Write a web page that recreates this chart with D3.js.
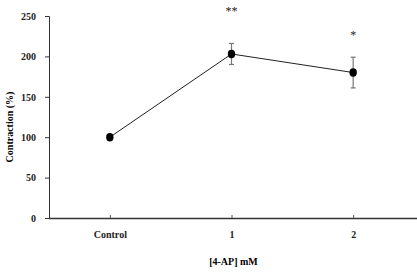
<!DOCTYPE html>
<html lang="en">
<head>
    <meta charset="UTF-8">
    <script src="https://cdn.jsdelivr.net/npm/d3@7"></script>
    <style>
        * { margin: 0; padding: 0; box-sizing: border-box; }
        body { background: white; }
        svg text { font-family: "Liberation Serif", "Times New Roman", serif; }
    </style>
</head>
<body>
    <svg width="417" height="275"></svg>
    <script>
        let categories = ['Control', '1', '2']
        let values = [100, 203, 180]
        let errors = [3, 13, 19]
        let marks = ['', '**', '*']
        let markValues = [0, 251, 222]
        let yTicks = [0, 50, 100, 150, 200, 250]

        let svg = d3.select('svg')

        let xScale = d3.scalePoint()
            .domain(categories)
            .range([49, 414])
            .padding(0.5)

        let yScale = d3.scaleLinear()
            .domain([0, 250])
            .range([218, 16])

        // y axis
        let yAxis = d3.axisLeft(yScale)
            .tickValues(yTicks)
            .tickSize(4)
            .tickPadding(9)

        let gy = svg.append('g')
            .attr('transform', 'translate(49, 0)')
            .call(yAxis)
        gy.selectAll('path, line').attr('stroke', '#333')
        gy.selectAll('text')
            .attr('font-size', 10)
            .attr('font-weight', 'bold')
            .attr('fill', '#222')

        // x axis
        let xAxis = d3.axisBottom(xScale)
            .tickSize(-3)
            .tickSizeOuter(0)
            .tickPadding(13)

        let gx = svg.append('g')
            .attr('transform', 'translate(0, 218)')
            .call(xAxis)
        gx.select('.domain').attr('d', 'M49,0.5H417').attr('stroke', '#333').attr('stroke-width', 1.3)
        gx.selectAll('line').attr('stroke', '#555')
        gx.selectAll('text')
            .attr('font-size', 10)
            .attr('font-weight', 'bold')
            .attr('fill', '#222')

        // axis titles
        svg.append('text')
            .attr('transform', 'translate(13, 127) rotate(-90)')
            .attr('text-anchor', 'middle')
            .attr('font-size', 10)
            .attr('font-weight', 'bold')
            .text('Contraction (%)')

        svg.append('text')
            .attr('x', xScale('1') + 2)
            .attr('y', 265)
            .attr('text-anchor', 'middle')
            .attr('font-size', 10)
            .attr('font-weight', 'bold')
            .text('[4-AP] mM')

        // line
        let line = d3.line()
            .x((d, i) => xScale(categories[i]))
            .y(d => yScale(d))

        svg.append('path')
            .datum(values)
            .attr('d', line)
            .attr('fill', 'none')
            .attr('stroke', '#222')
            .attr('stroke-width', 1)

        // error bars
        let eb = svg.selectAll('.err')
            .data(values)
            .join('g')
            .attr('class', 'err')
            .attr('stroke', '#777')
            .attr('stroke-width', 1.2)

        eb.append('line')
            .attr('x1', (d, i) => xScale(categories[i]))
            .attr('x2', (d, i) => xScale(categories[i]))
            .attr('y1', (d, i) => yScale(d + errors[i]))
            .attr('y2', (d, i) => yScale(d - errors[i]))
        eb.append('line')
            .attr('x1', (d, i) => xScale(categories[i]) - 2.5)
            .attr('x2', (d, i) => xScale(categories[i]) + 2.5)
            .attr('y1', (d, i) => yScale(d + errors[i]))
            .attr('y2', (d, i) => yScale(d + errors[i]))
        eb.append('line')
            .attr('x1', (d, i) => xScale(categories[i]) - 2.5)
            .attr('x2', (d, i) => xScale(categories[i]) + 2.5)
            .attr('y1', (d, i) => yScale(d - errors[i]))
            .attr('y2', (d, i) => yScale(d - errors[i]))

        // points
        svg.selectAll('.pt')
            .data(values)
            .join('ellipse')
            .attr('class', 'pt')
            .attr('cx', (d, i) => xScale(categories[i]))
            .attr('cy', d => yScale(d))
            .attr('rx', 3.7)
            .attr('ry', 4.2)
            .attr('fill', 'black')

        // significance marks
        svg.selectAll('.sig')
            .data(marks)
            .join('text')
            .attr('class', 'sig')
            .attr('x', (d, i) => xScale(categories[i]))
            .attr('y', (d, i) => yScale(markValues[i]))
            .attr('text-anchor', 'middle')
            .attr('font-size', 12)
            .attr('fill', '#222')
            .text(d => d)
    </script>
</body>
</html>
